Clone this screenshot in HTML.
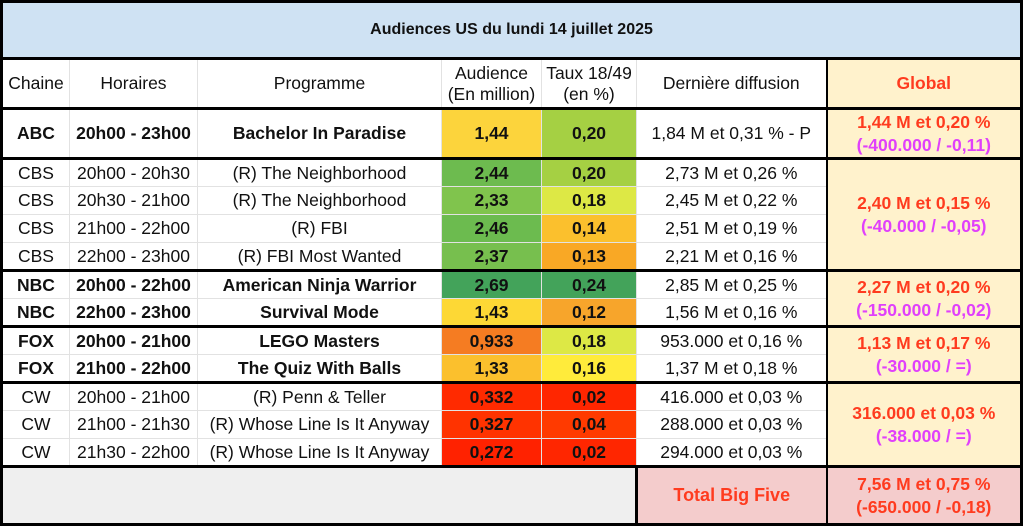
<!DOCTYPE html>
<html><head><meta charset="utf-8"><style>
body{margin:0;width:1023px;height:527px;overflow:hidden;background:#fff;font-family:"Liberation Sans",Arial,sans-serif;}
table{position:absolute;left:0;top:0;border-collapse:collapse;table-layout:fixed;width:1023px;border:3px solid #000;}
td{border:1px solid #e2e2e2;text-align:center;font-size:17.5px;color:#111;padding:0;white-space:nowrap;overflow:hidden;}
.b td{font-weight:bold;}
.tt td{border-top:3px solid #000;}
.n{font-weight:bold;}
.g{background:#fff2cc;border-left:2px solid #000;font-weight:bold;color:#ff3b1f;line-height:23px;}
.g span{color:#e040fb;}
</style></head><body>
<table>
<colgroup><col style="width:68px"><col style="width:128px"><col style="width:244px"><col style="width:100px"><col style="width:95px"><col style="width:190px"><col style="width:195px"></colgroup>
<tr style="height:57px"><td colspan="7" style="background:#cfe2f3;font-weight:bold;font-size:16px;">Audiences US du lundi 14 juillet 2025</td></tr>
<tr class="tt" style="height:50px"><td>Chaine</td><td>Horaires</td><td>Programme</td><td style="line-height:21px">Audience<br>(En million)</td><td style="line-height:21px">Taux 18/49<br>(en %)</td><td>Dernière diffusion</td><td style="background:#fff2cc;color:#ff3b1f;font-weight:bold;border-left:2px solid #000">Global</td></tr>
<tr class="tt b" style="height:50px"><td>ABC</td><td>20h00 - 23h00</td><td>Bachelor In Paradise</td><td style="background:#fcd43c">1,44</td><td style="background:#a5d043">0,20</td><td style="font-weight:normal">1,84 M et 0,31 % - P</td><td class="g">1,44 M et 0,20 %<br><span>(-400.000 / -0,11)</span></td></tr>
<tr class="tt" style="height:28px"><td>CBS</td><td>20h00 - 20h30</td><td>(R) The Neighborhood</td><td class="n" style="background:#6dbb4f">2,44</td><td class="n" style="background:#a5d043">0,20</td><td>2,73 M et 0,26 %</td><td class="g" rowspan="4">2,40 M et 0,15 %<br><span>(-40.000 / -0,05)</span></td></tr>
<tr style="height:28px"><td>CBS</td><td>20h30 - 21h00</td><td>(R) The Neighborhood</td><td class="n" style="background:#80c44d">2,33</td><td class="n" style="background:#dde845">0,18</td><td>2,45 M et 0,22 %</td></tr>
<tr style="height:28px"><td>CBS</td><td>21h00 - 22h00</td><td>(R) FBI</td><td class="n" style="background:#6cbb4f">2,46</td><td class="n" style="background:#fbc02d">0,14</td><td>2,51 M et 0,19 %</td></tr>
<tr style="height:28px"><td>CBS</td><td>22h00 - 23h00</td><td>(R) FBI Most Wanted</td><td class="n" style="background:#77bf4e">2,37</td><td class="n" style="background:#f9a825">0,13</td><td>2,21 M et 0,16 %</td></tr>
<tr class="tt b" style="height:28px"><td>NBC</td><td>20h00 - 22h00</td><td>American Ninja Warrior</td><td style="background:#43a35a">2,69</td><td style="background:#43a35a">0,24</td><td style="font-weight:normal">2,85 M et 0,25 %</td><td class="g" rowspan="2">2,27 M et 0,20 %<br><span>(-150.000 / -0,02)</span></td></tr>
<tr class="b" style="height:28px"><td>NBC</td><td>22h00 - 23h00</td><td>Survival Mode</td><td style="background:#fdd835">1,43</td><td style="background:#f7a52b">0,12</td><td style="font-weight:normal">1,56 M et 0,16 %</td></tr>
<tr class="tt b" style="height:28px"><td>FOX</td><td>20h00 - 21h00</td><td>LEGO Masters</td><td style="background:#f57c22">0,933</td><td style="background:#dde845">0,18</td><td style="font-weight:normal">953.000 et 0,16 %</td><td class="g" rowspan="2">1,13 M et 0,17 %<br><span>(-30.000 / =)</span></td></tr>
<tr class="b" style="height:28px"><td>FOX</td><td>21h00 - 22h00</td><td>The Quiz With Balls</td><td style="background:#fbc02d">1,33</td><td style="background:#ffeb3b">0,16</td><td style="font-weight:normal">1,37 M et 0,18 %</td></tr>
<tr class="tt" style="height:28px"><td>CW</td><td>20h00 - 21h00</td><td>(R) Penn &amp; Teller</td><td class="n" style="background:#ff2a00">0,332</td><td class="n" style="background:#ff2600">0,02</td><td>416.000 et 0,03 %</td><td class="g" rowspan="3">316.000 et 0,03 %<br><span>(-38.000 / =)</span></td></tr>
<tr style="height:28px"><td>CW</td><td>21h00 - 21h30</td><td>(R) Whose Line Is It Anyway</td><td class="n" style="background:#ff3300">0,327</td><td class="n" style="background:#ff3a00">0,04</td><td>288.000 et 0,03 %</td></tr>
<tr style="height:28px"><td>CW</td><td>21h30 - 22h00</td><td>(R) Whose Line Is It Anyway</td><td class="n" style="background:#ff2200">0,272</td><td class="n" style="background:#ff2600">0,02</td><td>294.000 et 0,03 %</td></tr>
<tr class="tt" style="height:58px"><td colspan="5" style="background:#efefef"></td><td style="background:#f4cccc;color:#ff3b1f;font-weight:bold;font-size:18px;border-left:3px solid #000">Total Big Five</td><td class="g" style="background:#f4cccc;color:#ff3b1f">7,56 M et 0,75 %<br>(-650.000 / -0,18)</td></tr>
</table>
</body></html>
